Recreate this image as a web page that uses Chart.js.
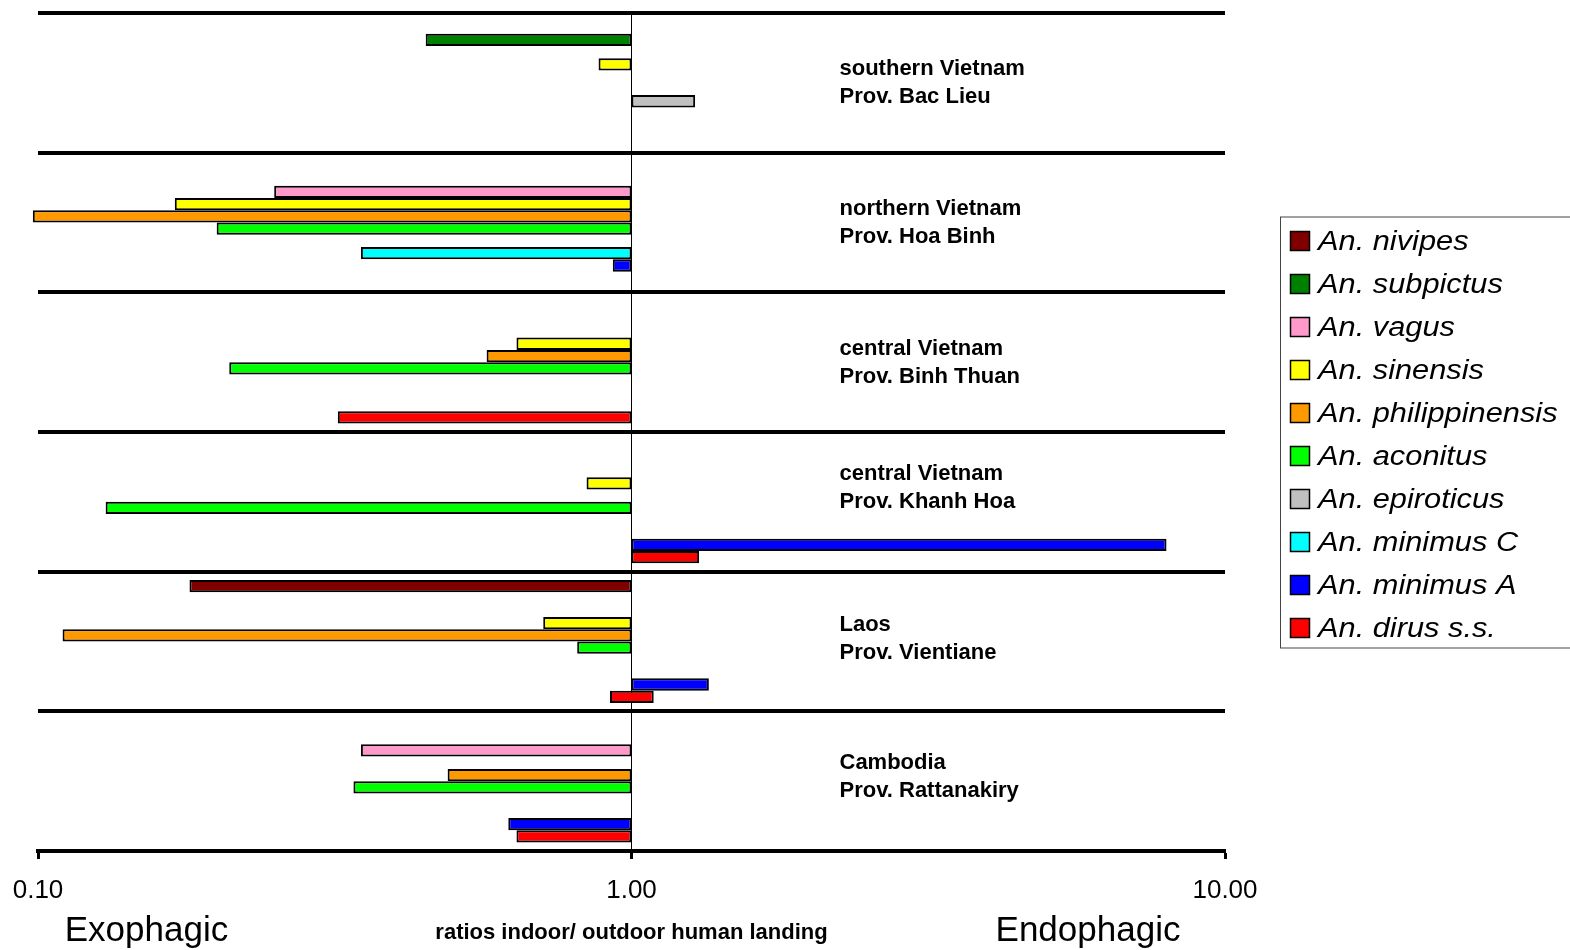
<!DOCTYPE html>
<html>
<head>
<meta charset="utf-8">
<script src="https://cdn.jsdelivr.net/npm/chart.js@4.4.0/dist/chart.umd.min.js"></script>
<style>
  html, body { margin: 0; padding: 0; background: #fff; }
  #wrap { width: 1570px; height: 950px; }
</style>
</head>
<body>
<div id="wrap"><canvas id="ratioChart" width="1570" height="950"></canvas></div>
<script>
const regions = ['southern Vietnam', 'northern Vietnam', 'central Vietnam', 'central Vietnam', 'Laos', 'Cambodia'];
const provinces = ['Prov. Bac Lieu', 'Prov. Hoa Binh', 'Prov. Binh Thuan', 'Prov. Khanh Hoa', 'Prov. Vientiane', 'Prov. Rattanakiry'];

const species = ['An. nivipes', 'An. subpictus', 'An. vagus', 'An. sinensis', 'An. philippinensis',
    'An. aconitus', 'An. epiroticus', 'An. minimus C', 'An. minimus A', 'An. dirus s.s.'];
const speciesColors = ['#800000', '#008000', '#ff99cc', '#ffff00', '#ff9900',
    '#00ff00', '#c0c0c0', '#00ffff', '#0000ff', '#ff0000'];

// ratio indoor / outdoor per region (null = not caught); bars grow from 1.00
const nivipes        = [null, null, null, null, 0.18, null];
const subpictus      = [0.45, null, null, null, null, null];
const vagus          = [null, 0.25, null, null, null, 0.35];
const sinensis       = [0.88, 0.17, 0.64, 0.84, 0.71, null];
const philippinensis = [null, 0.098, 0.57, null, 0.11, 0.49];
const aconitus       = [null, 0.20, 0.21, 0.13, 0.81, 0.34];
const epiroticus     = [1.28, null, null, null, null, null];
const minimusC       = [null, 0.35, null, null, null, null];
const minimusA       = [null, 0.93, null, 7.97, 1.35, 0.62];
const dirus          = [null, null, 0.32, 1.30, [0.92, 1.09], 0.64];

const xTicks = [0.1, 1, 10];

document.addEventListener('DOMContentLoaded', function() {
    const fontFamily = "'Liberation Sans', Arial, Helvetica, sans-serif";
    Chart.defaults.font.family = fontFamily;
    Chart.defaults.color = '#000';

    const seriesValues = [nivipes, subpictus, vagus, sinensis, philippinensis,
        aconitus, epiroticus, minimusC, minimusA, dirus];

    // small pixel nudges of the region captions relative to the group centre
    const captionShift = [0, 0.5, 0.5, -13.5, -2.5, -4.5];

    const regionCaptions = {
        id: 'regionCaptions',
        afterDatasetsDraw(chart) {
            const ctx = chart.ctx;
            const yScale = chart.scales.y;
            const x = chart.scales.x.getPixelForValue(1) + 208;
            ctx.save();
            ctx.fillStyle = '#000';
            ctx.font = 'bold 22px ' + fontFamily;
            ctx.textAlign = 'left';
            ctx.textBaseline = 'middle';
            regions.forEach((r, i) => {
                const y = yScale.getPixelForValue(i) + captionShift[i];
                ctx.fillText(r, x, y - 14);
                ctx.fillText(provinces[i], x, y + 14);
            });
            ctx.restore();
        },
        afterDraw(chart) {
            const ctx = chart.ctx;
            const area = chart.chartArea;
            ctx.save();
            ctx.fillStyle = '#000';
            ctx.font = '35px ' + fontFamily;
            ctx.textAlign = 'center';
            ctx.textBaseline = 'middle';
            ctx.fillText('Exophagic', area.left + 108.5, 931.5);
            ctx.fillText('Endophagic', area.right - 137, 931.5);
            ctx.restore();
        }
    };

    const legendBox = {
        id: 'legendBox',
        afterDraw(chart) {
            const ctx = chart.ctx;
            const area = chart.chartArea;
            const sets = chart.data.datasets;
            const step = 43;
            const left = area.right + 55.5;
            const first = (area.top + area.bottom) / 2 - step * (sets.length - 1) / 2 + 2.5;
            ctx.save();
            ctx.strokeStyle = '#444';
            ctx.lineWidth = 1;
            ctx.strokeRect(left, first - 24, 400, step * (sets.length - 1) + 44);
            ctx.font = 'italic 27px ' + fontFamily;
            ctx.textAlign = 'left';
            ctx.textBaseline = 'middle';
            sets.forEach((ds, i) => {
                const y = first + i * step;
                ctx.fillStyle = ds.backgroundColor;
                ctx.fillRect(left + 10, y - 9.5, 19, 19);
                ctx.strokeStyle = '#000';
                ctx.lineWidth = 1.5;
                ctx.strokeRect(left + 10, y - 9.5, 19, 19);
                ctx.fillStyle = '#000';
                ctx.save();
                ctx.translate(left + 37.5, y + 1);
                ctx.scale(1.14, 1);
                ctx.fillText(ds.label, 0, 0);
                ctx.restore();
            });
            ctx.restore();
        }
    };

    new Chart(document.getElementById('ratioChart'), {
        type: 'bar',
        data: {
            labels: regions.map((r, i) => r + ' ' + provinces[i]),
            datasets: species.map((name, i) => ({
                label: name,
                data: seriesValues[i].map(v => v === null ? null : (Array.isArray(v) ? v : [1, v])),
                backgroundColor: speciesColors[i],
                borderColor: '#000',
                borderWidth: 2,
                borderSkipped: false,
                categoryPercentage: 0.88,
                barPercentage: 1,
                clip: false
            }))
        },
        options: {
            indexAxis: 'y',
            responsive: false,
            animation: false,
            layout: { padding: { left: 38, right: 345, top: 13, bottom: 0 } },
            scales: {
                x: {
                    type: 'logarithmic',
                    min: 0.1,
                    max: 10,
                    afterBuildTicks: scale => {
                        scale.ticks = xTicks.map(v => ({ value: v }));
                    },
                    afterFit: scale => {
                        scale.height = 99;
                        scale.paddingLeft = 0;
                        scale.paddingRight = 0;
                    },
                    ticks: {
                        callback: value => Number(value).toFixed(2),
                        font: { size: 26 },
                        color: '#000',
                        padding: 16.4,
                        maxRotation: 0,
                        autoSkip: false
                    },
                    grid: {
                        color: c => (c.tick && c.tick.value === 1) ? '#000' : 'rgba(0,0,0,0)',
                        lineWidth: 1,
                        tickColor: '#000',
                        tickWidth: 3,
                        tickLength: 8
                    },
                    border: { display: true, color: '#000', width: 4 },
                    title: {
                        display: true,
                        text: 'ratios indoor/ outdoor human landing',
                        font: { size: 22, weight: 'bold' },
                        color: '#000',
                        padding: { top: 0, bottom: 4.3 }
                    }
                },
                y: {
                    grid: { color: '#000', lineWidth: 4, offset: true, drawTicks: false },
                    border: { display: false },
                    ticks: { display: false }
                }
            },
            plugins: {
                legend: { display: false },
                tooltip: { enabled: false }
            }
        },
        plugins: [regionCaptions, legendBox]
    });
});
</script>
</body>
</html>
